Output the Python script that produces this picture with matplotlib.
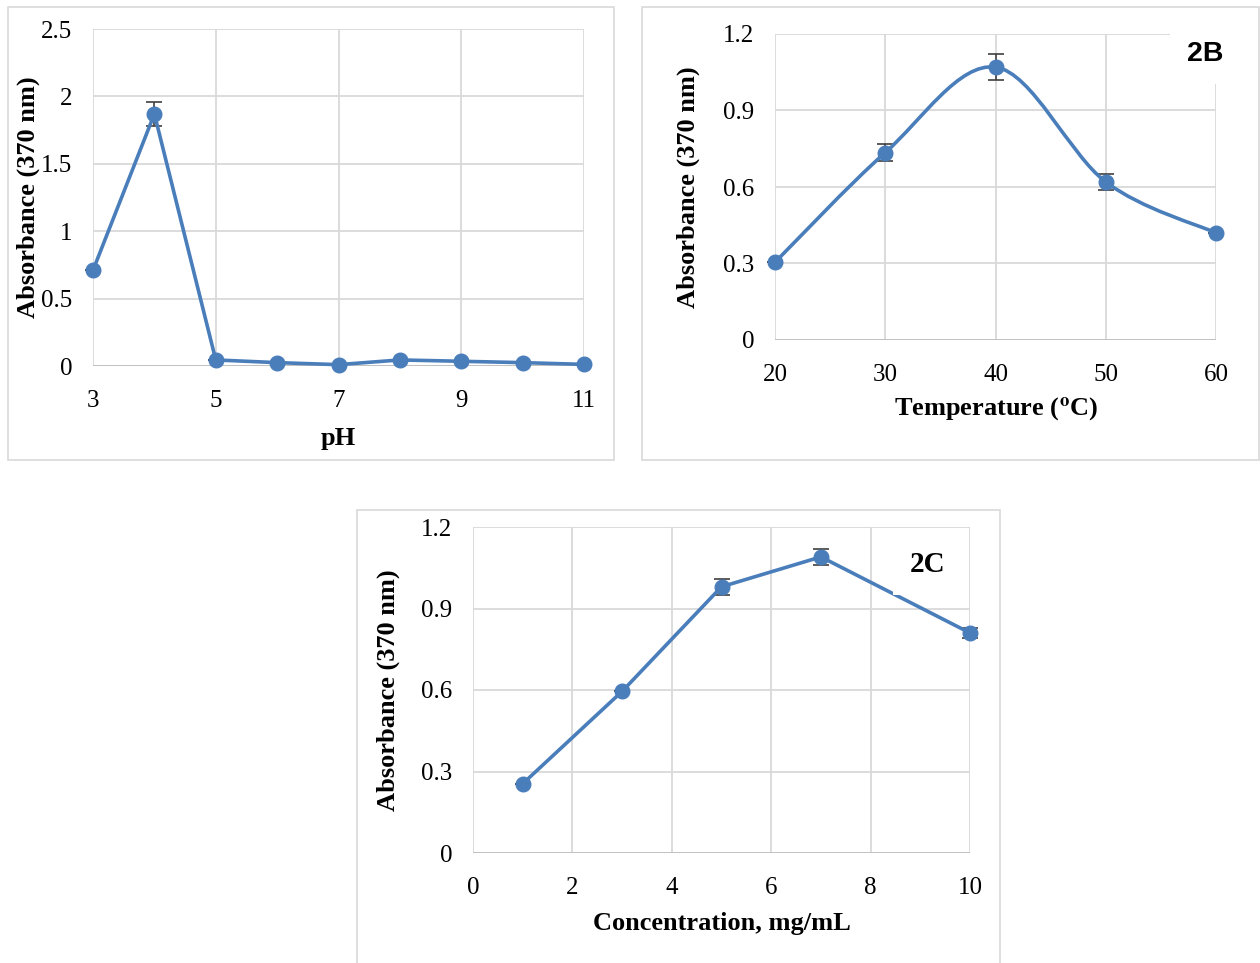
import matplotlib
matplotlib.use("Agg")
import matplotlib.pyplot as plt
from matplotlib.patches import Rectangle, PathPatch
from matplotlib.path import Path

# ---------------- data ----------------
ph = [3, 4, 5, 6, 7, 8, 9, 10, 11]
abs_ph = [0.71, 1.87, 0.045, 0.025, 0.01, 0.045, 0.035, 0.025, 0.012]
err_ph = [0.0, 0.09, 0.0, 0.0, 0.0, 0.0, 0.0, 0.0, 0.0]

temp = [20, 30, 40, 50, 60]
abs_temp = [0.305, 0.735, 1.07, 0.62, 0.42]
err_temp = [0.0, 0.035, 0.05, 0.03, 0.0]

conc = [1, 3, 5, 7, 10]
abs_conc = [0.255, 0.595, 0.98, 1.09, 0.81]
err_conc = [0.0, 0.0, 0.03, 0.03, 0.02]

ph_ticks = [3, 5, 7, 9, 11]
ph_yticks = [0, 0.5, 1, 1.5, 2, 2.5]
ph_yticklabels = ["0", "0.5", "1", "1.5", "2", "2.5"]
temp_ticks = [20, 30, 40, 50, 60]
conc_ticks = [0, 2, 4, 6, 8, 10]
abs_yticks = [0, 0.3, 0.6, 0.9, 1.2]
abs_yticklabels = ["0", "0.3", "0.6", "0.9", "1.2"]

ylabel = "Absorbance (370 nm)"

# ---------------- style ----------------
W, H = 1260, 963
plt.rcParams['font.family'] = ['Liberation Serif', 'DejaVu Serif']
plt.rcParams['mathtext.fontset'] = 'stix'
BLUE = '#4a7ebb'
GRID = '#d9d9d9'
ERR = '#404040'
TICKFS = 18
LABFS = 19

fig = plt.figure(figsize=(W / 100, H / 100), dpi=100)
fig.patch.set_facecolor('white')


def fx(px):
    return px / W


def fy(py):
    return 1 - py / H


def make_axes(x0, x1, ytop, ybot):
    ax = fig.add_axes([fx(x0), fy(ybot), fx(x1) - fx(x0), fy(ytop) - fy(ybot)])
    for s in ax.spines.values():
        s.set_visible(False)
    ax.grid(True, color=GRID, linewidth=1.3)
    ax.set_axisbelow(True)
    ax.tick_params(length=0, labelsize=TICKFS)
    ax.tick_params(axis='y', pad=15)
    ax.tick_params(axis='x', pad=17)
    ax.axhline(0, color='#bfbfbf', linewidth=1.3, zorder=1)
    return ax


def panel_border(x0, y0, x1, y1):
    fig.patches.append(Rectangle((fx(x0), fy(y1)), fx(x1) - fx(x0), fy(y0) - fy(y1),
                                 transform=fig.transFigure, fill=False,
                                 edgecolor=GRID, linewidth=1.2))


def excel_smooth_path(xs, ys):
    pts = list(zip(xs, ys))
    n = len(pts)
    verts = [pts[0]]
    codes = [Path.MOVETO]
    for i in range(n - 1):
        p0 = pts[i - 1] if i > 0 else pts[i]
        p1 = pts[i]
        p2 = pts[i + 1]
        p3 = pts[i + 2] if i + 2 < n else pts[i + 1]
        c1 = (p1[0] + (p2[0] - p0[0]) / 6, p1[1] + (p2[1] - p0[1]) / 6)
        c2 = (p2[0] - (p3[0] - p1[0]) / 6, p2[1] - (p3[1] - p1[1]) / 6)
        verts += [c1, c2, p2]
        codes += [Path.CURVE4] * 3
    return Path(verts, codes)


# ---------------- panel borders ----------------
panel_border(8, 7, 614, 460)
panel_border(642, 7, 1259, 460)
panel_border(357, 510, 1000, 975)

# ---------------- Panel A: pH ----------------
axA = make_axes(93, 584, 29, 366)
axA.set_xlim(3, 11)
axA.set_ylim(0, 2.5)
axA.set_xticks(ph_ticks)
axA.set_yticks(ph_yticks)
axA.set_yticklabels(ph_yticklabels)
axA.plot(ph, abs_ph, color=BLUE, linewidth=2.6, marker='o', markersize=10.5,
         clip_on=False, zorder=3)
axA.errorbar(ph, abs_ph, yerr=err_ph, fmt='none', ecolor=ERR, elinewidth=1.2,
             capsize=5.5, capthick=1.2, zorder=2, clip_on=False)
fig.text(fx(28), fy(197), ylabel, rotation=90, ha='center', va='center',
         fontsize=LABFS, fontweight='bold')
fig.text(fx(338), fy(438), "pH", ha='center', va='center',
         fontsize=LABFS, fontweight='bold')

# ---------------- Panel B: Temperature ----------------
axB = make_axes(775, 1216, 34, 340)
axB.set_xlim(20, 60)
axB.set_ylim(0, 1.2)
axB.set_xticks(temp_ticks)
axB.set_yticks(abs_yticks)
axB.set_yticklabels(abs_yticklabels)
axB.add_patch(PathPatch(excel_smooth_path(temp, abs_temp), facecolor='none',
                        edgecolor=BLUE, linewidth=2.6, zorder=3, clip_on=False,
                        capstyle='round'))
axB.plot(temp, abs_temp, linestyle='none', color=BLUE, marker='o', markersize=10.5,
         clip_on=False, zorder=4)
axB.errorbar(temp, abs_temp, yerr=err_temp, fmt='none', ecolor=ERR, elinewidth=1.2,
             capsize=5.5, capthick=1.2, zorder=2, clip_on=False)
fig.text(fx(1205), fy(54), "2B", ha='center', va='center', fontsize=20.5,
         fontweight='bold', family=['Liberation Sans', 'DejaVu Sans'],
         bbox=dict(boxstyle='square,pad=0.6', facecolor='white', edgecolor='none'),
         zorder=5)
fig.text(fx(688), fy(187), ylabel, rotation=90, ha='center', va='center',
         fontsize=LABFS, fontweight='bold')
fig.text(fx(996), fy(410), r"Temperature ($^{\mathbf{o}}$C)", ha='center', va='center',
         fontsize=LABFS, fontweight='bold')

# ---------------- Panel C: Concentration ----------------
axC = make_axes(473, 970, 527, 853)
axC.set_xlim(0, 10)
axC.set_ylim(0, 1.2)
axC.set_xticks(conc_ticks)
axC.set_yticks(abs_yticks)
axC.set_yticklabels(abs_yticklabels)
axC.plot(conc, abs_conc, color=BLUE, linewidth=2.6, marker='o', markersize=10.5,
         clip_on=False, zorder=3)
axC.errorbar(conc, abs_conc, yerr=err_conc, fmt='none', ecolor=ERR, elinewidth=1.2,
             capsize=5.5, capthick=1.2, zorder=2, clip_on=False)
fig.text(fx(928), fy(564), "2C", ha='center', va='center', fontsize=21,
         fontweight='bold',
         bbox=dict(boxstyle='square,pad=0.6', facecolor='white', edgecolor='none'),
         zorder=5)
fig.text(fx(388), fy(690), ylabel, rotation=90, ha='center', va='center',
         fontsize=LABFS, fontweight='bold')
fig.text(fx(722), fy(923), "Concentration, mg/mL", ha='center', va='center',
         fontsize=LABFS, fontweight='bold')

fig.savefig("out.png", dpi=100, facecolor='white')
